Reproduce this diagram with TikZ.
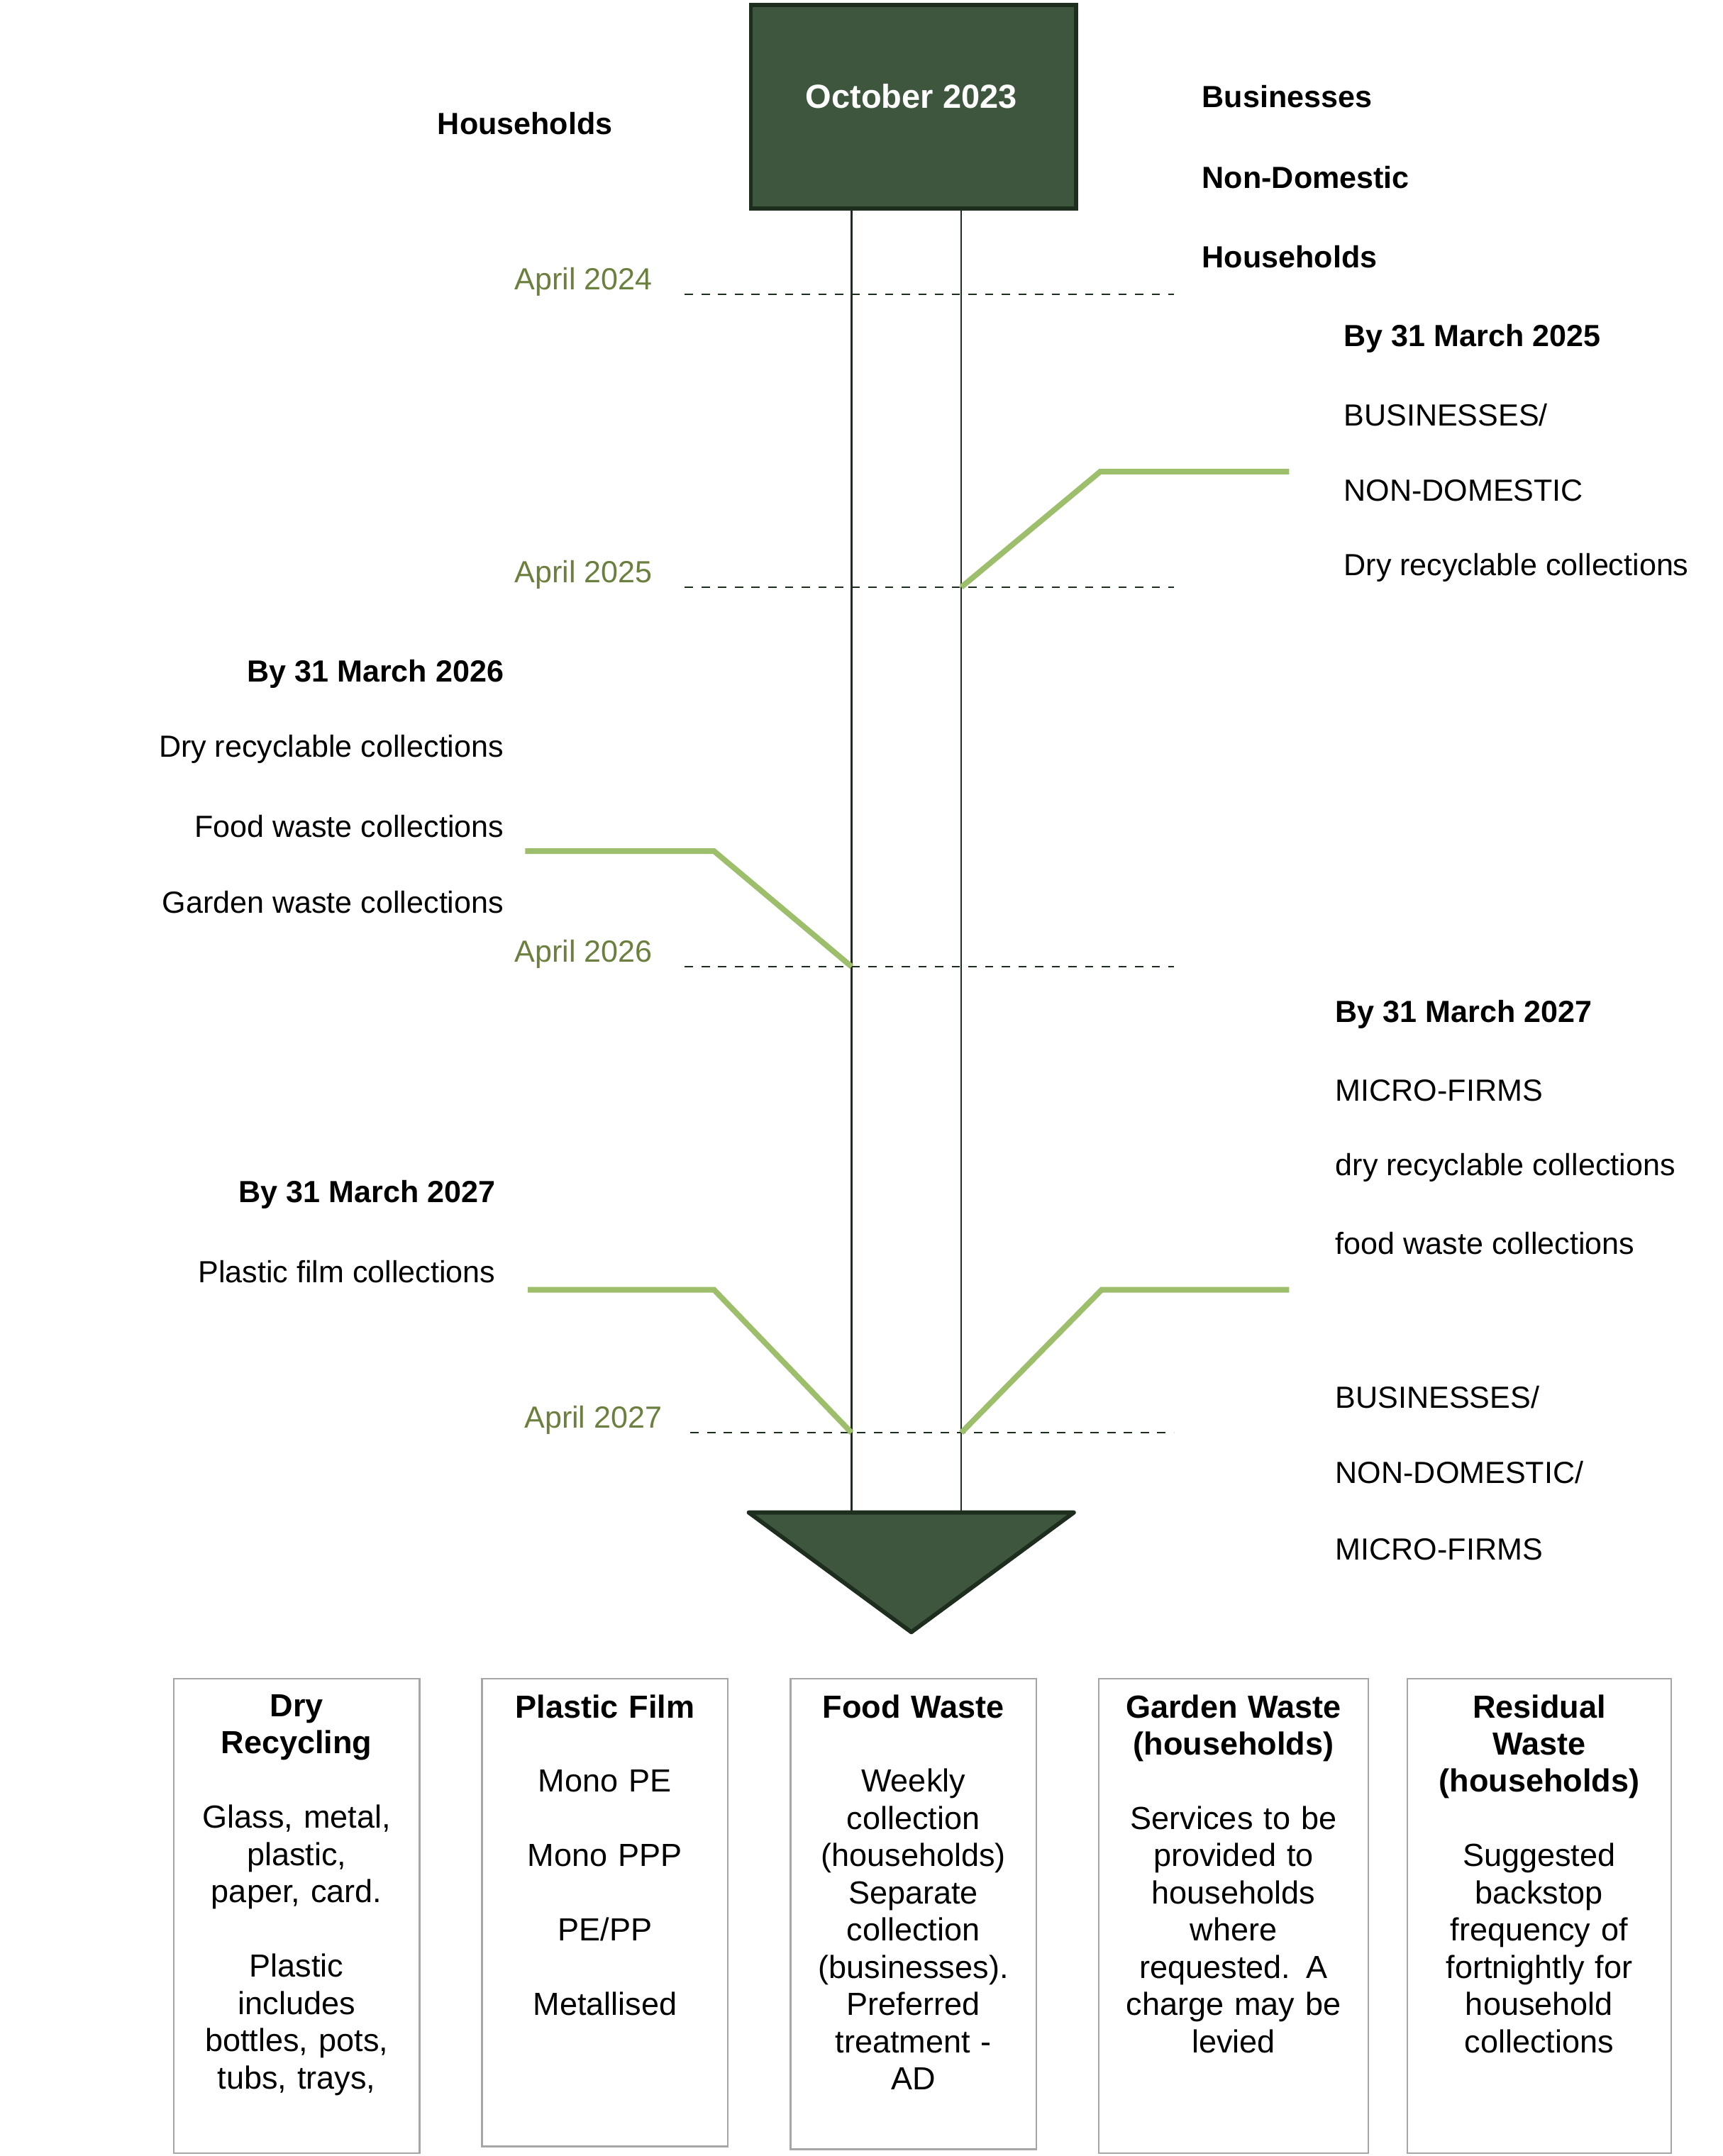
\documentclass[tikz,border=0pt]{standalone}
\usepackage{fontspec}
\setmainfont{Liberation Sans}
\definecolor{dkgreen}{HTML}{3E553E}
\definecolor{dkedge}{HTML}{1E2E1E}
\definecolor{olive}{HTML}{6B7F3E}
\definecolor{lgreen}{HTML}{9DBE6A}
\begin{document}
\begin{tikzpicture}[x=0.5pt,y=-0.495pt,
  lbl/.style={font=\fontsize{11}{13}\selectfont,inner sep=0},
  hd/.style={lbl,font=\fontsize{11}{13}\selectfont\bfseries},
  dt/.style={lbl,text=olive},
  dline/.style={dashed,dkedge,line width=0.5pt},
  gline/.style={lgreen,line width=2pt},
  box/.style={draw=gray!70,line width=0.6pt},
  btxt/.style={anchor=north,inner sep=0,align=center,text width=85pt,font=\fontsize{11.5}{13.4}\selectfont}]
\useasboundingbox (0,0) rectangle (1240,1568);
\fill[white] (0,0) rectangle (1240,1568);
% top box
\node[draw=dkedge,fill=dkgreen,line width=1.5pt,minimum width=117pt,minimum height=73.3pt,anchor=north west,inner sep=0] (top) at (539,2) {};
\node[font=\fontsize{12}{14}\selectfont\bfseries,text=white] (oct) at (656,70) {October 2023};
% triangle
\draw[dkedge,fill=dkgreen,line width=1.5pt,line join=round] (539,1100) coordinate (t1) -- (773,1100) coordinate (t2) -- (656,1187) coordinate (t3) -- cycle;
\coordinate (l1) at (613,150); \coordinate (l2) at (613,1100);
\coordinate (r1) at (692,150); \coordinate (r2) at (692,1100);
\draw[dkedge,line width=0.6pt] (l1) -- (l2);
\draw[dkedge,line width=0.6pt] (r1) -- (r2);
\node[hd] (hh) at (378,90) {Households};
\node[hd,anchor=west] (b1) at (865,70) {Businesses};
\node[hd,anchor=west] (b2) at (865,129) {Non-Domestic};
\node[hd,anchor=west] (b3) at (865,187) {Households};
% dates
\foreach \y/\t/\xl/\xs in {214/April 2024/470/493, 427/April 2025/470/493, 703/April 2026/470/493, 1042/April 2027/477/497}{
  \node[dt,anchor=east] at (\xl,\y-9) {\t};
  \draw[dline] (\xs,\y) -- (845,\y);
}
% green connectors
\coordinate (g1a) at (692,427); \coordinate (g1b) at (792,343); \coordinate (g1c) at (928,343);
\draw[gline] (g1a) -- (g1b) -- (g1c);
\coordinate (g2a) at (378,619); \coordinate (g2b) at (514,619); \coordinate (g2c) at (613,703);
\draw[gline] (g2a) -- (g2b) -- (g2c);
\coordinate (g3a) at (380,938); \coordinate (g3b) at (514,938); \coordinate (g3c) at (613,1042);
\draw[gline] (g3a) -- (g3b) -- (g3c);
\coordinate (g4a) at (692,1042); \coordinate (g4b) at (793,938); \coordinate (g4c) at (928,938);
\draw[gline] (g4a) -- (g4b) -- (g4c);
% right block 1
\node[hd,anchor=west] (r11) at (967,246) {By 31 March 2025};
\node[lbl,anchor=west] (r12) at (967,302) {BUSINESSES/};
\node[lbl,anchor=west] (r13) at (967,357) {NON-DOMESTIC};
\node[lbl,anchor=west] (r14) at (967,413) {Dry recyclable collections};
% left block 1
\node[hd,anchor=east] (l11) at (363,490) {By 31 March 2026};
\node[lbl,anchor=east] (l12) at (363,545) {Dry recyclable collections};
\node[lbl,anchor=east] (l13) at (363,601) {Food waste collections};
\node[lbl,anchor=east] (l14) at (363,656) {Garden waste collections};
% right block 2
\node[hd,anchor=west] (r21) at (961,738) {By 31 March 2027};
\node[lbl,anchor=west] (r22) at (961,793) {MICRO-FIRMS};
\node[lbl,anchor=west] (r23) at (961,849) {dry recyclable collections};
\node[lbl,anchor=west] (r24) at (961,904) {food waste collections};
\node[lbl,anchor=west] (r25) at (961,1016) {BUSINESSES/};
\node[lbl,anchor=west] (r26) at (961,1071) {NON-DOMESTIC/};
\node[lbl,anchor=west] (r27) at (961,1127) {MICRO-FIRMS};
% left block 2
\node[hd,anchor=east] (l21) at (357,869) {By 31 March 2027};
\node[lbl,anchor=east] (l22) at (357,925) {Plastic film collections};
% bottom boxes
\draw[box] (125,1221) rectangle (302,1566);
\draw[box] (347,1221) rectangle (524,1561);
\draw[box] (569,1221) rectangle (746,1563);
\draw[box] (791,1221) rectangle (985,1566);
\draw[box] (1013,1221) rectangle (1203,1566);
\node[btxt] (c1) at (213.5,1232) {\textbf{Dry}\\\textbf{Recycling}\\[13.4pt]Glass, metal,\\plastic,\\paper, card.\\[13.4pt]Plastic\\includes\\bottles, pots,\\tubs, trays,};
\node[btxt] (c2) at (435.5,1232) {\textbf{Plastic Film}\\[13.4pt]Mono PE\\[13.4pt]Mono PPP\\[13.4pt]PE/PP\\[13.4pt]Metallised};
\node[btxt] (c3) at (657.5,1232) {\textbf{Food Waste}\\[13.4pt]Weekly\\collection\\(households)\\Separate\\collection\\(businesses).\\Preferred\\treatment -\\AD};
\node[btxt,text width=95pt] (c4) at (888,1232) {\textbf{Garden Waste}\\\textbf{(households)}\\[13.4pt]Services to be\\provided to\\households\\where\\requested. A\\charge may be\\levied};
\node[btxt,text width=92pt] (c5) at (1108,1232) {\textbf{Residual}\\\textbf{Waste}\\\textbf{(households)}\\[13.4pt]Suggested\\backstop\\frequency of\\fortnightly for\\household\\collections};
\end{tikzpicture}
\end{document}
